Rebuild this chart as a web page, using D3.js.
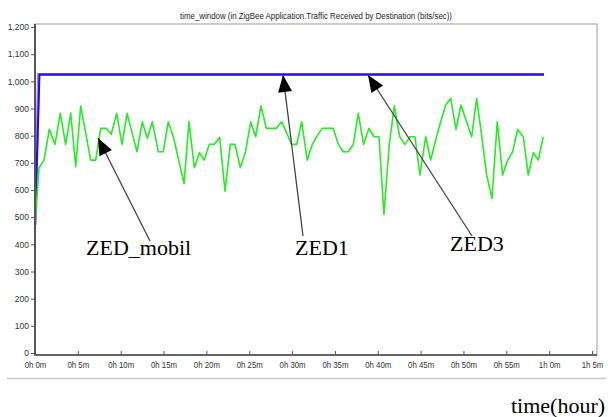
<!DOCTYPE html>
<html><head><meta charset="utf-8">
<script src="https://cdn.jsdelivr.net/npm/d3@7"></script>
<style>body{margin:0;background:#fff}svg{display:block}</style>
</head><body>
<svg id="c" width="608" height="417"></svg>
<script>
const title = "time_window (in ZigBee Application.Traffic Received by Destination (bits/sec))";
const yTicks = [0,100,200,300,400,500,600,700,800,900,1000,1100,1200];
const xTicks = [0,5,10,15,20,25,30,35,40,45,50,55,60,65];
const xTickLabels = ["0h 0m","0h 5m","0h 10m","0h 15m","0h 20m","0h 25m","0h 30m","0h 35m","0h 40m","0h 45m","0h 50m","0h 55m","1h 0m","1h 5m"];
// ZED_mobil (green)
const mobilT = [0,0.47,1.05,1.67,2.33,2.95,3.58,4.17,4.75,5.33,6.5,7.08,7.67,8.28,8.9,9.53,10.15,10.74,11.9,12.52,13.1,13.69,14.39,14.97,15.55,16.14,17.39,17.97,18.59,19.17,19.75,20.34,20.92,21.55,22.17,22.79,23.34,23.96,24.54,25.17,25.75,26.37,26.99,27.57,28.16,28.79,29.95,30.54,31.12,31.77,32.36,32.94,33.52,34.15,34.81,35.39,35.97,36.56,37.14,37.72,38.35,38.97,39.56,40.14,40.72,41.34,41.93,42.56,43.17,43.76,44.34,44.92,45.59,46.17,46.76,47.34,47.92,48.51,49.13,49.71,50.29,50.96,51.54,52.12,52.71,53.33,53.94,54.57,55.16,55.74,56.32,56.98,57.56,58.15,58.73,59.31];
const mobilV = [470,682,710,823,768,882,768,882,686,909,710,710,827,827,805,882,768,882,741,851,790,851,741,741,851,796,624,851,682,737,710,768,768,794,596,768,768,682,737,851,796,909,827,827,827,851,768,768,851,710,768,800,827,827,827,768,741,741,768,882,768,827,796,796,510,768,909,796,768,796,796,655,796,710,784,851,913,937,823,913,858,796,937,802,655,569,851,655,710,741,823,796,655,737,710,796];
// ZED1 (blue) and ZED3 (violet)
const zed1T = [0,0.52,59.4];
const zed1V = [470,1025,1025];
const zed3T = [0,0.42,59.4];
const zed3V = [470,1025,1025];

const svg = d3.select("#c");
const L=35, R=597, T=24, B=355;
const x = d3.scaleLinear().domain([0,65]).range([35,592]);
const y = d3.scaleLinear().domain([0,1200]).range([353,27]);

// frame
svg.append("rect").attr("x",L).attr("y",T).attr("width",R-L).attr("height",B-T)
  .attr("fill","#fff").attr("stroke","#999").attr("stroke-width",1);
svg.append("line").attr("x1",7).attr("x2",606).attr("y1",378.5).attr("y2",378.5)
  .attr("stroke","#c8c8c8").attr("stroke-width",1.5);

// title
svg.append("text").attr("x",316).attr("y",19).attr("text-anchor","middle")
  .attr("font-family","Liberation Sans, Arial, sans-serif").attr("font-size",8.5)
  .attr("textLength",272).attr("lengthAdjust","spacingAndGlyphs")
  .attr("fill","#222").text(title);

// axes
const yAxis = d3.axisLeft(y).tickValues(yTicks).tickSize(4).tickPadding(2)
  .tickFormat(d3.format(","));
const gy = svg.append("g").attr("transform",`translate(${L},0)`).call(yAxis);
const xAxis = d3.axisBottom(x).tickValues(xTicks).tickSize(4).tickPadding(3)
  .tickFormat((d,i)=>xTickLabels[i]);
const gx = svg.append("g").attr("transform",`translate(0,${B})`).call(xAxis);
[gx,gy].forEach(g=>{
  g.select(".domain").remove();
  g.selectAll(".tick line").attr("stroke","#555");
  g.selectAll(".tick text").attr("font-family","Liberation Sans, Arial, sans-serif")
    .attr("font-size",8.5).attr("fill","#333").attr("textLength",null);
});
gx.selectAll(".tick line").attr("y1",-4).attr("y2",0);
gx.selectAll(".tick text").attr("transform","scale(0.92,1)").each(function(){
  const t=d3.select(this); });
// axis lines
svg.append("line").attr("x1",L).attr("x2",L).attr("y1",T).attr("y2",B+1)
  .attr("stroke","#555").attr("stroke-width",2);
svg.append("line").attr("x1",L-1).attr("x2",R).attr("y1",B).attr("y2",B)
  .attr("stroke","#666").attr("stroke-width",2);

// clip
svg.append("clipPath").attr("id","cp").append("rect")
  .attr("x",L+1).attr("y",T).attr("width",R-L).attr("height",B-T-1);
const plot = svg.append("g").attr("clip-path","url(#cp)");
const line = d3.line().x(d=>x(d[0])).y(d=>y(d[1]));
plot.append("path").datum(zed3T.map((t,i)=>[t,zed3V[i]])).attr("d",line)
  .attr("fill","none").attr("stroke","#c070f0").attr("stroke-width",3);
plot.append("path").datum(zed1T.map((t,i)=>[t,zed1V[i]])).attr("d",line)
  .attr("fill","none").attr("stroke","#1010ff").attr("stroke-width",2);
plot.append("path").datum(mobilT.map((t,i)=>[t,mobilV[i]])).attr("d",line)
  .attr("fill","none").attr("stroke","#22ee22").attr("stroke-width",1.6)
  .attr("stroke-linejoin","round");

// annotations
function arrow(x1,y1,x2,y2){
  svg.append("line").attr("x1",x1).attr("y1",y1).attr("x2",x2).attr("y2",y2)
    .attr("stroke","#444").attr("stroke-width",1.3);
  const a=Math.atan2(y2-y1,x2-x1), len=17, w=7;
  const bx=x2-len*Math.cos(a), by=y2-len*Math.sin(a);
  const px=-Math.sin(a)*w, py=Math.cos(a)*w;
  svg.append("path").attr("d",`M${x2},${y2}L${bx+px},${by+py}L${bx-px},${by-py}Z`)
    .attr("fill","#000");
}
arrow(150,241,98,138);
arrow(303,236,283,75);
arrow(472,236,368,75);

const serif="Liberation Serif, 'Times New Roman', serif";
svg.append("text").attr("x",86).attr("y",255).attr("font-family",serif).attr("font-size",22).text("ZED_mobil");
svg.append("text").attr("x",295).attr("y",255).attr("font-family",serif).attr("font-size",22).text("ZED1");
svg.append("text").attr("x",450).attr("y",251).attr("font-family",serif).attr("font-size",22).text("ZED3");
svg.append("text").attr("x",511).attr("y",413).attr("font-family",serif).attr("font-size",22).text("time(hour)");
</script>
</body></html>
